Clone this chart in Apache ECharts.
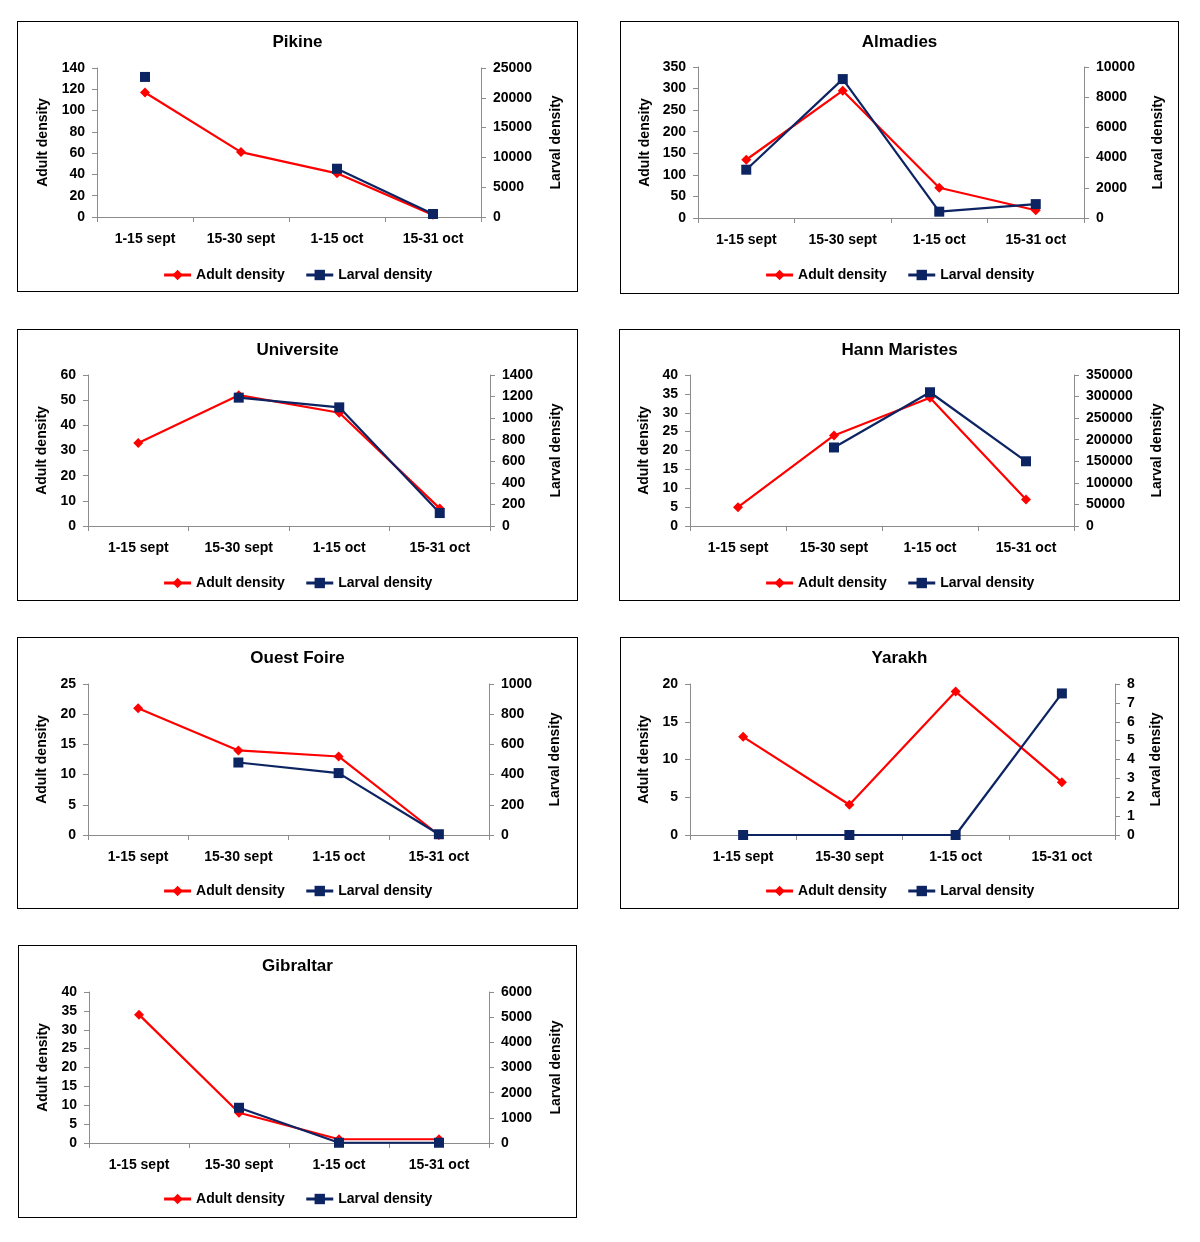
<!DOCTYPE html>
<html>
<head>
<meta charset="utf-8">
<script src="https://cdn.jsdelivr.net/npm/echarts@6/dist/echarts.min.js"></script>
<style>
  html, body { margin: 0; padding: 0; background: #fff; }
  body { width: 1200px; height: 1242px; position: relative; overflow: hidden; }
  .chart { position: absolute; }
  .frame { position: absolute; border: 1px solid #000; box-sizing: border-box; pointer-events: none; }
</style>
</head>
<body>
<script>
// ---------- data ----------
const categories = ['1-15 sept', '15-30 sept', '1-15 oct', '15-31 oct'];
const seriesNames = ['Adult density', 'Larval density'];

const siteNames = ['Pikine', 'Almadies', 'Universite', 'Hann Maristes', 'Ouest Foire', 'Yarakh', 'Gibraltar'];

const pikineAdult = [117, 61, 41, 2];
const pikineLarval = [23500, null, 8100, 500];
const almadiesAdult = [135, 295, 70, 18];
const almadiesLarval = [3200, 9200, 420, 920];
const universiteAdult = [33, 52, 45, 7];
const universiteLarval = [null, 1190, 1100, 120];
const hannAdult = [5, 24, 34, 7];
const hannLarval = [null, 182000, 310000, 150000];
const ouestAdult = [21, 14, 13, 0];
const ouestLarval = [null, 480, 410, 5];
const yarakhAdult = [13, 4, 19, 7];
const yarakhLarval = [0, 0, 0, 7.5];
const gibraltarAdult = [34, 8, 1, 1];
const gibraltarLarval = [null, 1400, 10, 10];

// axis scales: [max, interval]
const adultAxis = [[140, 20], [350, 50], [60, 10], [40, 5], [25, 5], [20, 5], [40, 5]];
const larvalAxis = [[25000, 5000], [10000, 2000], [1400, 200], [350000, 50000], [1000, 200], [8, 1], [6000, 1000]];

const adultData = [pikineAdult, almadiesAdult, universiteAdult, hannAdult, ouestAdult, yarakhAdult, gibraltarAdult];
const larvalData = [pikineLarval, almadiesLarval, universiteLarval, hannLarval, ouestLarval, yarakhLarval, gibraltarLarval];

// ---------- layout ----------
const panels = [
  { box: [17, 21, 561, 271], grid: [80, 47, 384, 149], gaps: [47, 68] },
  { box: [620, 21, 559, 273], grid: [78, 46, 386, 151], gaps: [46, 67] },
  { box: [17, 329, 561, 272], grid: [71, 46, 402, 151], gaps: [37, 59] },
  { box: [619, 329, 561, 272], grid: [71, 46, 384, 151], gaps: [37, 76] },
  { box: [17, 637, 561, 272], grid: [71, 47, 401, 151], gaps: [37, 59] },
  { box: [620, 637, 559, 272], grid: [70, 47, 425, 151], gaps: [37, 34] },
  { box: [18, 945, 559, 273], grid: [71, 47, 400, 151], gaps: [37, 60] }
];

const FONT = '"Liberation Sans", Arial, sans-serif';
const RED = '#ff0000';
const NAVY = '#0d2463';
const AXIS_GREY = '#8c8c8c';

panels.forEach((p, i) => {
  const div = document.createElement('div');
  div.className = 'chart';
  div.style.left = p.box[0] + 'px';
  div.style.top = p.box[1] + 'px';
  div.style.width = p.box[2] + 'px';
  div.style.height = p.box[3] + 'px';
  document.body.appendChild(div);

  const frame = document.createElement('div');
  frame.className = 'frame';
  frame.style.left = p.box[0] + 'px';
  frame.style.top = p.box[1] + 'px';
  frame.style.width = p.box[2] + 'px';
  frame.style.height = p.box[3] + 'px';
  document.body.appendChild(frame);

  const chart = echarts.init(div, null, { renderer: 'canvas' });

  const valueAxis = (pos, max, interval, gap) => ({
    type: 'value',
    position: pos,
    min: 0,
    max: max,
    interval: interval,
    name: pos === 'left' ? seriesNames[0] : seriesNames[1],
    nameLocation: 'middle',
    nameGap: gap,
    nameTextStyle: { color: '#000', fontFamily: FONT, fontSize: 14, fontWeight: 'bold' },
    axisLine: { show: true, lineStyle: { color: AXIS_GREY, width: 1 } },
    axisTick: { show: true, length: 5, lineStyle: { color: AXIS_GREY } },
    axisLabel: {
      color: '#000', fontFamily: FONT, fontSize: 14, fontWeight: 'bold', margin: 12,
      formatter: (v) => String(v)
    },
    splitLine: { show: false }
  });

  chart.setOption({
    animation: false,
    backgroundColor: '#fff',
    title: {
      text: siteNames[i],
      left: 'center',
      top: 8,
      textStyle: { color: '#000', fontFamily: FONT, fontSize: 17, fontWeight: 'bold' }
    },
    legend: {
      data: seriesNames,
      left: 'center',
      top: 242,
      itemWidth: 27,
      itemHeight: 13,
      itemGap: 20,
      lineStyle: { width: 3 },
      textStyle: { color: '#000', fontFamily: FONT, fontSize: 14, fontWeight: 'bold' }
    },
    grid: { left: p.grid[0], top: p.grid[1], width: p.grid[2], height: p.grid[3], containLabel: false },
    xAxis: {
      type: 'category',
      data: categories,
      boundaryGap: true,
      axisLine: { show: true, lineStyle: { color: AXIS_GREY, width: 1 } },
      axisTick: { show: true, length: 5, lineStyle: { color: AXIS_GREY } },
      axisLabel: { color: '#000', fontFamily: FONT, fontSize: 14, fontWeight: 'bold', margin: 15, interval: 0 },
      splitLine: { show: false }
    },
    yAxis: [
      valueAxis('left', adultAxis[i][0], adultAxis[i][1], p.gaps[0]),
      valueAxis('right', larvalAxis[i][0], larvalAxis[i][1], p.gaps[1])
    ],
    series: [
      {
        name: seriesNames[0],
        type: 'line',
        yAxisIndex: 0,
        data: adultData[i],
        symbol: 'diamond',
        symbolSize: 10,
        showAllSymbol: true,
        connectNulls: false,
        itemStyle: { color: RED },
        lineStyle: { color: RED, width: 2.2 }
      },
      {
        name: seriesNames[1],
        type: 'line',
        yAxisIndex: 1,
        data: larvalData[i],
        symbol: 'rect',
        symbolSize: 10,
        showAllSymbol: true,
        connectNulls: false,
        itemStyle: { color: NAVY },
        lineStyle: { color: NAVY, width: 2.2 }
      }
    ]
  });
});
</script>
</body>
</html>
